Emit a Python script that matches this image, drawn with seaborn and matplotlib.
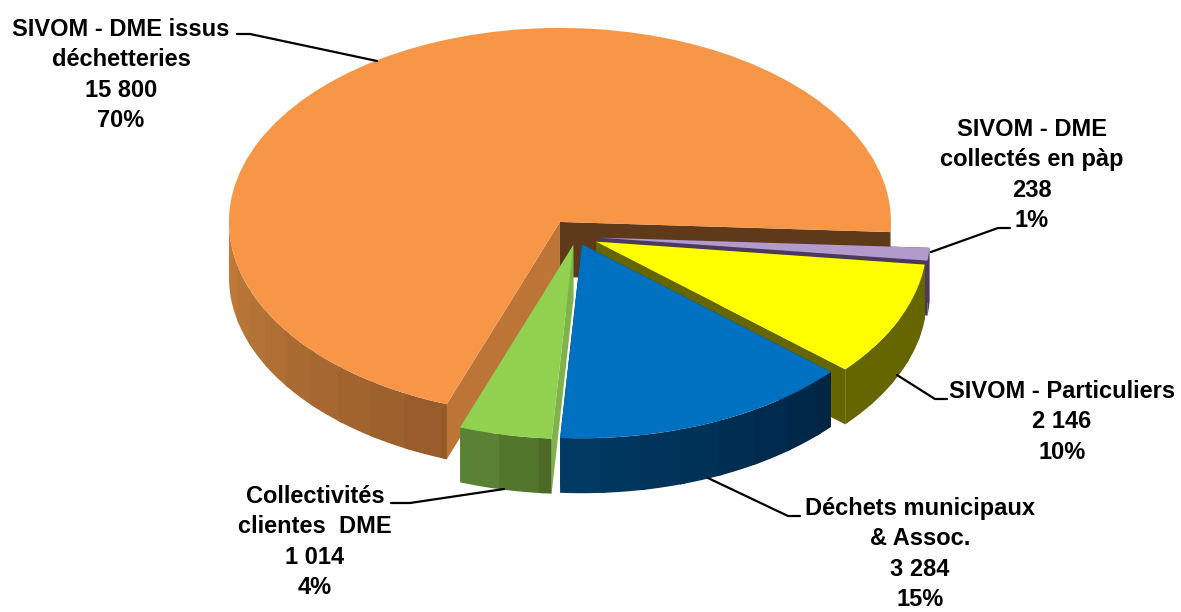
import numpy as np
import matplotlib
matplotlib.use("Agg")
import matplotlib.pyplot as plt
from matplotlib.lines import Line2D
import seaborn as sns

# Data
names = ["SIVOM - DME issus\ndéchetteries", "Collectivités\nclientes  DME", "Déchets municipaux\n& Assoc.",
         "SIVOM - Particuliers", "SIVOM - DME\ncollectés en pàp"]
values = [15800, 1014, 3284, 2146, 238]
value_labels = ["15 800", "1 014", "3 284", "2 146", "238"]
pct_labels = ["70%", "4%", "15%", "10%", "1%"]

# Look of each slice
explode = [0.09, 0.045, 0.043, 0.065, 0.068]
top_colors = ["#F79646", "#92D050", "#0070C0", "#FFFF00", "#B29BCB"]
wall_left = ["#C67F3E", "#5A8234", "#003A63", "#666600", "#4B3A5E"]
wall_right = ["#935A28", "#4C6A26", "#002545", "#666600", "#4B3A5E"]
start_wall = ["#5F3A1A", "#7FB24A", "#002545", "#666600", "#4B3A5E"]
end_wall = ["#BD7537", "#7FB24A", "#003A63", "#666600", "#4B3A5E"]
layer = [0, 4, 3, 2, 1]  # painting order, back to front

W, H = 1181, 612
CX, CY = 576.4, 236.5  # pie centre in pixels
RX, RY = 331.0, 194.0
DEPTH = 55.0 / RY
START = -3.0

sns.set_theme(style="white")
plt.rcParams["font.family"] = ["Liberation Sans", "DejaVu Sans"]

fig = plt.figure(figsize=(W / 100, H / 100), dpi=100, facecolor="white")
ax = fig.add_axes([0, 0, 1, 1])

wedges, _ = ax.pie(values, startangle=START, explode=explode, colors=top_colors,
                   wedgeprops={"linewidth": 0})
ax.set_aspect("auto")
ax.set_xlim(-CX / RX, (W - CX) / RX)
ax.set_ylim((CY - H) / RY, CY / RY)
sns.despine(ax=ax, left=True, bottom=True)

# Side walls, worked out from the same angles as the pie
edges = START + np.concatenate([[0], np.cumsum(values)]) / np.sum(values) * 360
for i, wedge in enumerate(wedges):
    a1, a2 = edges[i], edges[i + 1]
    mid = np.radians((a1 + a2) / 2)
    ox, oy = explode[i] * np.cos(mid), explode[i] * np.sin(mid)
    z = layer[i] * 2 + 1
    wedge.set_zorder(z + 1)

    # flat cut faces
    for a, col in ((a1, start_wall[i]), (a2, end_wall[i])):
        t = np.radians(a)
        x = [ox, ox + np.cos(t), ox + np.cos(t), ox]
        y = [oy, oy + np.sin(t), oy + np.sin(t) - DEPTH, oy - DEPTH]
        ax.fill(x, y, color=col, lw=0, zorder=z)

    # outer rim, in narrow bands like the original shading
    stops = np.unique(np.concatenate([np.arange(a1, a2, 7.0), [a2],
                                      [a for a in (0, 180, 360) if a1 < a < a2]]))
    bands = [(s, e) for s, e in zip(stops[:-1], stops[1:]) if np.sin(np.radians((s + e) / 2)) < 0]
    colors = sns.blend_palette([wall_left[i], wall_right[i]], n_colors=max(len(bands), 2))
    for (s, e), col in zip(bands, colors):
        # each band runs a little under the next one so no seam shows
        t = np.radians(np.linspace(s, min(e + 1.0, a2), 12))
        x = ox + np.cos(t)
        y = oy + np.sin(t)
        ax.fill(np.r_[x, x[::-1]], np.r_[y, y[::-1] - DEPTH], color=col, lw=0, zorder=z)


def to_fig(px, py):
    return px / W, 1 - py / H


# Labels: slice order, centre of the block and top of its first line in pixels
label_pos = [(121, 18), (315, 485), (920, 497), (1062, 380), (1032, 118)]
for name, val, pct, (px, py) in zip(names, value_labels, pct_labels, label_pos):
    fx, fy = to_fig(px, py)
    fig.text(fx, fy, f"{name}\n{val}\n{pct}", ha="center", va="top", fontsize=17,
             fontweight="bold", color="black", linespacing=1.41)

# Leader lines
leaders = [
    [(237, 34), (250, 34), (377, 61)],
    [(391, 503), (410, 503), (504, 489)],
    [(800, 516), (788, 516), (708, 478)],
    [(947, 399), (935, 399), (897, 375)],
    [(1010, 228), (998, 228), (931, 252)],
]
for pts in leaders:
    fx, fy = zip(*[to_fig(*p) for p in pts])
    fig.add_artist(Line2D(fx, fy, color="black", lw=1.6, transform=fig.transFigure))

fig.savefig("out.png", dpi=100)
plt.close(fig)
